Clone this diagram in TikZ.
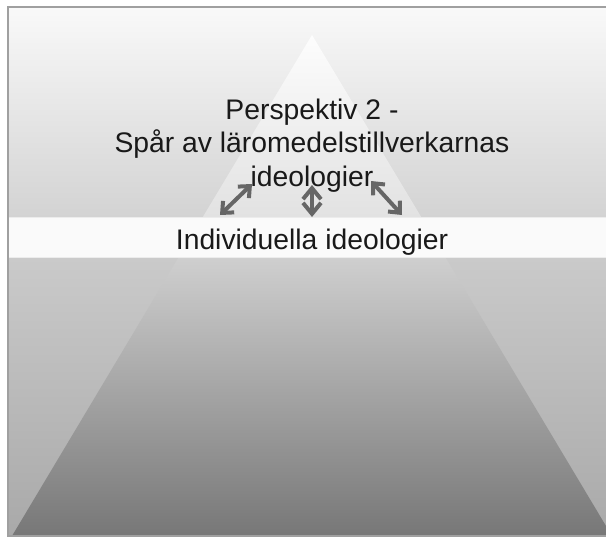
\documentclass[tikz,border=0pt]{standalone}
\usepackage{fontspec}
\setmainfont{Liberation Sans}
\usetikzlibrary{arrows.meta}
\definecolor{frameline}{HTML}{A0A0A0}
\definecolor{skytop}{HTML}{F9F9F9}
\definecolor{skybot}{HTML}{D3D3D3}
\definecolor{peaktop}{HTML}{FDFDFD}
\definecolor{peakbot}{HTML}{E2E2E2}
\definecolor{bandfill}{HTML}{FAFAFA}
\definecolor{groundtop}{HTML}{CACACA}
\definecolor{groundbot}{HTML}{A9A9A9}
\definecolor{basetop}{HTML}{CFCFCF}
\definecolor{basebot}{HTML}{777777}
\definecolor{arrowgray}{HTML}{666666}
\tikzset{
  label text/.style={font=\fontsize{28.3}{33.6}\selectfont, text=black!90, inner sep=0pt},
  link/.style={draw=arrowgray, line width=4pt,
    {Straight Barb[length=9pt,width=16pt]}-{Straight Barb[length=9pt,width=16pt]}},
  biglink/.style={draw=arrowgray, line width=4pt,
    {Straight Barb[length=11pt,width=18pt]}-{Straight Barb[length=11pt,width=18pt]}}
}
\begin{document}
\begin{tikzpicture}[x=1pt,y=-1pt]
\useasboundingbox (0,0) rectangle (606,538);
% upper backdrop
\shade[top color=skytop, bottom color=skybot] (8,7) rectangle (606,217);
% tip of the pyramid
\shade[top color=peaktop, bottom color=peakbot] (312,35) -- (202.8,217) -- (421.2,217) -- cycle;
% lower backdrop
\shade[top color=groundtop, bottom color=groundbot] (8,257) rectangle (606,536);
% base of the pyramid
\begin{scope}
  \clip (8,257) rectangle (606,536);
  \shade[top color=basetop, bottom color=basebot] (178.8,257) -- (12,536) -- (612,536) -- (445.2,257) -- cycle;
\end{scope}
% white band
\fill[bandfill] (8,217) rectangle (606,257);
\draw[white!85!gray, line width=0.8pt] (8,217) -- (606,217);
\draw[white!85!gray, line width=0.8pt] (8,257) -- (606,257);
% frame
\draw[frameline, line width=1.2pt] (606,7) -- (8,7) -- (8,536) -- (606,536);
% texts
\node[label text, align=center, anchor=north] (persp) at (312,98.5)
  {Perspektiv 2 -\\Spår av läromedelstillverkarnas\\ideologier};
\node[label text, anchor=base] (indiv) at (312,249) {Individuella ideologier};
% arrows
\coordinate (la) at (220,215);
\coordinate (lb) at (252,184);
\coordinate (ma) at (312,185);
\coordinate (mb) at (312,217);
\coordinate (ra) at (371,181);
\coordinate (rb) at (402,215);
\draw[link] (la) -- (lb);
\draw[biglink] (ma) -- (mb);
\draw[link] (ra) -- (rb);
\end{tikzpicture}
\end{document}
